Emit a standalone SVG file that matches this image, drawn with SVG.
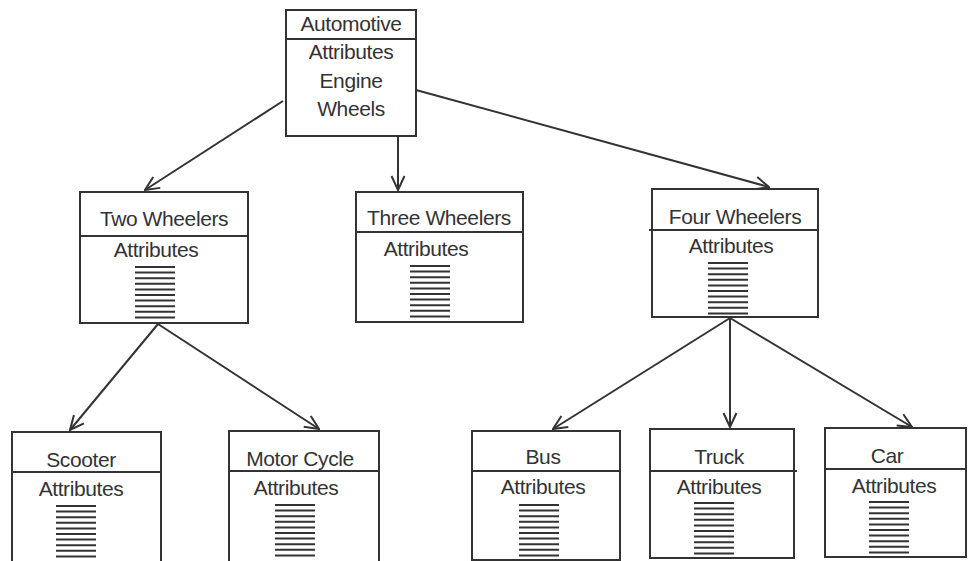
<svg xmlns="http://www.w3.org/2000/svg" xmlns:xlink="http://www.w3.org/1999/xlink" width="968" height="561" viewBox="0 0 968 561">
<style>
.box{fill:#fff;stroke:#333;stroke-width:2}
.div{stroke:#333;stroke-width:2}
text{font-family:"Liberation Sans",Arial,sans-serif;font-size:21px;letter-spacing:-0.4px;fill:#333;text-anchor:middle}
.edge{stroke:#333;stroke-width:2;fill:none;marker-end:url(#arr)}
.h{stroke:#333;stroke-width:2}
</style>
<defs>
<marker id="arr" viewBox="0 0 16 16" refX="15" refY="8" markerWidth="16" markerHeight="16" markerUnits="userSpaceOnUse" orient="auto">
<path d="M1,1.5 L15,8 L1,14.5" fill="none" stroke="#333" stroke-width="2"/>
</marker>
<path id="hatch" class="h" d="M0,0H40M0,5.6H40M0,11.2H40M0,16.8H40M0,22.4H40M0,28H40M0,33.6H40M0,39.2H40M0,44.8H40M0,50.4H40"/>
</defs>
<rect width="968" height="561" fill="#fff"/>
<g id="connectors">
<line class="edge" x1="283" y1="101" x2="145" y2="190"/>
<line class="edge" x1="398" y1="137" x2="398" y2="190"/>
<line class="edge" x1="416" y1="90" x2="769" y2="187"/>
<line class="edge" x1="158" y1="324" x2="70" y2="430"/>
<line class="edge" x1="158" y1="324" x2="319" y2="429"/>
<line class="edge" x1="730" y1="318" x2="553" y2="429"/>
<line class="edge" x1="730" y1="318" x2="730" y2="427"/>
<line class="edge" x1="730" y1="318" x2="912" y2="427"/>
</g>
<g id="automotive">
<rect class="box" x="286" y="10" width="130" height="126"/>
<line class="div" x1="286" y1="39" x2="416" y2="39"/>
<text x="351" y="31">Automotive</text>
<text x="351" y="59">Attributes</text>
<text x="351" y="88">Engine</text>
<text x="351" y="116">Wheels</text>
</g>
<g id="two-wheelers">
<rect class="box" x="80" y="192" width="168" height="131"/>
<line class="div" x1="80" y1="236" x2="248" y2="236"/>
<text x="164" y="226">Two Wheelers</text>
<text x="156" y="257">Attributes</text>
<use xlink:href="#hatch" x="135" y="267"/>
</g>
<g id="three-wheelers">
<rect class="box" x="356" y="192" width="167" height="130"/>
<line class="div" x1="356" y1="232" x2="523" y2="232"/>
<text x="439" y="225">Three Wheelers</text>
<text x="426" y="256">Attributes</text>
<use xlink:href="#hatch" x="410" y="266"/>
</g>
<g id="four-wheelers">
<rect class="box" x="652" y="189" width="166" height="128"/>
<line class="div" x1="649" y1="230" x2="818" y2="230"/>
<text x="735" y="224">Four Wheelers</text>
<text x="731" y="253">Attributes</text>
<use xlink:href="#hatch" x="708" y="263"/>
</g>
<g id="scooter">
<rect class="box" x="12" y="432" width="149" height="140"/>
<line class="div" x1="12" y1="472" x2="161" y2="472"/>
<text x="81" y="467">Scooter</text>
<text x="81" y="496">Attributes</text>
<use xlink:href="#hatch" x="56" y="506"/>
</g>
<g id="motor-cycle">
<rect class="box" x="229" y="431" width="150" height="140"/>
<line class="div" x1="229" y1="471" x2="379" y2="471"/>
<text x="300" y="466">Motor Cycle</text>
<text x="296" y="495">Attributes</text>
<use xlink:href="#hatch" x="275" y="505"/>
</g>
<g id="bus">
<rect class="box" x="472" y="431" width="148" height="129"/>
<line class="div" x1="472" y1="471" x2="620" y2="471"/>
<text x="543" y="464">Bus</text>
<text x="543" y="494">Attributes</text>
<use xlink:href="#hatch" x="519" y="505"/>
</g>
<g id="truck">
<rect class="box" x="650" y="429" width="144" height="129"/>
<line class="div" x1="650" y1="471" x2="797" y2="471"/>
<text x="719" y="464">Truck</text>
<text x="719" y="494">Attributes</text>
<use xlink:href="#hatch" x="694" y="503"/>
</g>
<g id="car">
<rect class="box" x="825" y="428" width="141" height="129"/>
<line class="div" x1="825" y1="469" x2="966" y2="469"/>
<text x="887" y="463">Car</text>
<text x="894" y="493">Attributes</text>
<use xlink:href="#hatch" x="869" y="502"/>
</g>
</svg>
